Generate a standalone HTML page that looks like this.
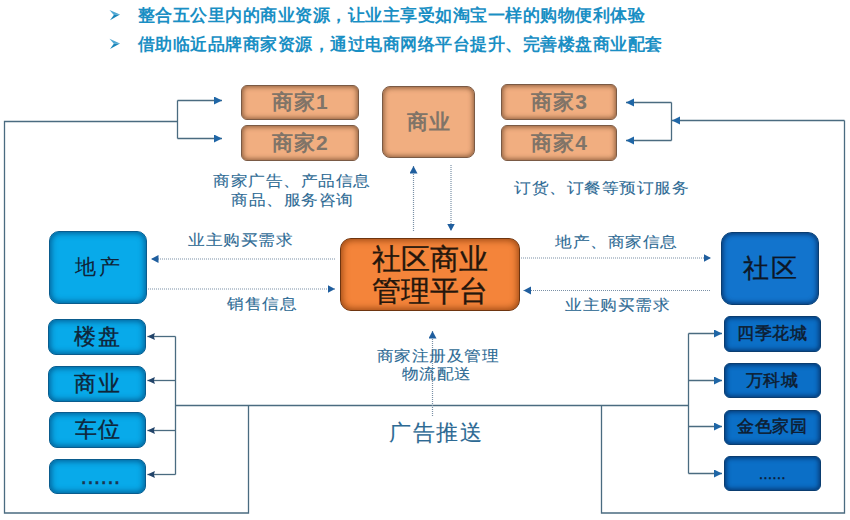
<!DOCTYPE html>
<html><head><meta charset="utf-8">
<style>
html,body{margin:0;padding:0;background:#fff;}
body{width:850px;height:520px;position:relative;overflow:hidden;font-family:"Liberation Sans",sans-serif;}
.t{position:absolute;white-space:nowrap;}
.top{color:#1A8FC4;font-weight:bold;font-size:17px;letter-spacing:0.5px;left:137.6px;line-height:20px;}
.ar{color:#1E9AD6;font-size:14px;position:absolute;left:108px;line-height:20px;}
.lbl{color:#2D6A94;font-size:17px;font-weight:normal;-webkit-text-stroke:0.12px currentColor;letter-spacing:0.5px;line-height:19px;text-align:center;transform:scaleY(0.9);}
.box{position:absolute;box-sizing:border-box;display:flex;align-items:center;justify-content:center;}
.peach{background:#F1AE80;border:1px solid #7A5A45;border-radius:6px;color:#807468;font-weight:bold;font-size:21px;letter-spacing:1px;padding-left:1px;box-shadow:inset 0 0 5px 1px rgba(110,70,40,.8);}
.orange{background:#F4843A;border:1px solid #6E3510;border-radius:11px;color:#24160c;font-size:29px;font-weight:normal;-webkit-text-stroke:0.35px currentColor;line-height:32px;text-align:center;box-shadow:inset 0 0 7px 1px rgba(120,50,5,.8);}
.lb{background:#08AAEA;border:1px solid #0A5C8E;border-radius:8px;color:#0F2438;font-size:22px;font-weight:normal;-webkit-text-stroke:0.35px currentColor;letter-spacing:1.5px;padding-left:1.5px;box-shadow:inset 0 0 6px 1px rgba(0,60,110,.75);}
.db{background:#0B6FC7;border:1px solid #0A3D70;border-radius:6px;color:#0E1C30;font-size:16.5px;font-weight:normal;-webkit-text-stroke:0.45px currentColor;letter-spacing:0.8px;padding-left:0.8px;box-shadow:inset 0 0 5px 1px rgba(5,40,90,.85);}
svg{position:absolute;left:0;top:0;}
</style></head><body>
<svg width="20" height="60" style="left:105px;top:0"><path d="M4.5,10 L15,14.6 L8.8,15 Z" fill="#4FA8D4"/><path d="M8.8,15 L15,14.6 L5,20.2 Z" fill="#1A86BA"/><path d="M4.5,38.8 L15,43.4 L8.8,43.8 Z" fill="#4FA8D4"/><path d="M8.8,43.8 L15,43.4 L5,49 Z" fill="#1A86BA"/></svg>
<div class="t top" style="top:5.5px">整合五公里内的商业资源，让业主享受如淘宝一样的购物便利体验</div>

<div class="t top" style="top:34.5px">借助临近品牌商家资源，通过电商网络平台提升、完善楼盘商业配套</div>

<svg width="850" height="520" viewBox="0 0 850 520">
<defs>
<marker id="ah" markerWidth="9" markerHeight="9" refX="7.5" refY="4" orient="auto" markerUnits="userSpaceOnUse"><path d="M0,0.5 L7.5,4 L0,7.5 L1,4 Z" fill="#22446A"/></marker>
<marker id="ah2" markerWidth="9" markerHeight="9" refX="8" refY="4" orient="auto" markerUnits="userSpaceOnUse"><path d="M0,0 L8,4 L0,8 Z" fill="#1F66A6"/></marker>
<marker id="ad" markerWidth="9" markerHeight="9" refX="7.5" refY="4" orient="auto" markerUnits="userSpaceOnUse"><path d="M0,0 L7.5,4 L0,8 Z" fill="#1F5E9E"/></marker>
</defs>
<g fill="none" stroke="#4A6B80" stroke-width="1.3">
<polyline points="177.5,121.5 4.5,121.5 4.5,513 248.5,513 248.5,405.5"/>
<line x1="177.5" y1="100.5" x2="177.5" y2="138.5"/>
<line x1="177.5" y1="100.5" x2="222" y2="100.5" marker-end="url(#ah2)"/>
<line x1="177.5" y1="138.5" x2="222" y2="138.5" marker-end="url(#ah2)"/>
<polyline points="601.5,405.5 601.5,513 844.5,513 844.5,120.5"/>
<line x1="844.5" y1="120.5" x2="672" y2="120.5" marker-end="url(#ah2)"/>
<line x1="671.5" y1="102.5" x2="671.5" y2="140.5"/>
<line x1="671.5" y1="102.5" x2="626" y2="102.5" marker-end="url(#ah2)"/>
<line x1="671.5" y1="140.5" x2="626" y2="140.5" marker-end="url(#ah2)"/>
<line x1="175.5" y1="405.5" x2="688.5" y2="405.5"/>
<line x1="175.5" y1="336.5" x2="175.5" y2="474.5"/>
<line x1="175.5" y1="336.5" x2="147.4" y2="336.5" marker-end="url(#ah)"/>
<line x1="175.5" y1="380.5" x2="147.4" y2="380.5" marker-end="url(#ah)"/>
<line x1="175.5" y1="430.5" x2="147.4" y2="430.5" marker-end="url(#ah)"/>
<line x1="175.5" y1="474.5" x2="147.4" y2="474.5" marker-end="url(#ah)"/>
<line x1="688.5" y1="333.5" x2="688.5" y2="473.5"/>
<line x1="688.5" y1="333.5" x2="722" y2="333.5" marker-end="url(#ah2)"/>
<line x1="688.5" y1="380.5" x2="722" y2="380.5" marker-end="url(#ah2)"/>
<line x1="688.5" y1="426.5" x2="722" y2="426.5" marker-end="url(#ah2)"/>
<line x1="688.5" y1="473.5" x2="722" y2="473.5" marker-end="url(#ah2)"/>
</g>
<g fill="none" stroke="#7A90A6" stroke-width="1.2" stroke-dasharray="1 1">
<line x1="335" y1="259" x2="151" y2="259" marker-end="url(#ad)"/>
<line x1="148" y1="289" x2="335" y2="289" marker-end="url(#ad)"/>
<line x1="521" y1="258" x2="711" y2="258" marker-end="url(#ad)"/>
<line x1="710" y1="290.5" x2="523.5" y2="290.5" marker-end="url(#ad)"/>
<line x1="413.5" y1="231" x2="413.5" y2="166" marker-end="url(#ad)"/>
<line x1="451" y1="165" x2="451" y2="231" marker-end="url(#ad)"/>
<line x1="432.5" y1="416" x2="432.5" y2="331" marker-end="url(#ad)"/>
</g>
</svg>

<div class="box peach" style="left:241px;top:84.5px;width:117.5px;height:35.5px">商家1</div>
<div class="box peach" style="left:241px;top:125px;width:117.5px;height:36px">商家2</div>
<div class="box peach" style="left:382px;top:86px;width:93px;height:71.5px;border-radius:8px">商业</div>
<div class="box peach" style="left:501px;top:84px;width:116px;height:36px">商家3</div>
<div class="box peach" style="left:501px;top:125px;width:116px;height:35.5px">商家4</div>

<div class="box orange" style="left:339.5px;top:238px;width:180px;height:73px">社区商业<br>管理平台</div>

<div class="box lb" style="left:49px;top:230.5px;width:98px;height:73px;border-radius:10px;font-size:21px;font-weight:normal;-webkit-text-stroke:0.1px currentColor;letter-spacing:3px;padding-left:1px">地产</div>
<div class="box lb" style="left:48px;top:318.5px;width:98px;height:36px">楼盘</div>
<div class="box lb" style="left:48px;top:366px;width:98px;height:36px">商业</div>
<div class="box lb" style="left:49px;top:412px;width:97px;height:36px">车位</div>
<div class="box lb" style="left:49px;top:459px;width:97px;height:35px;font-size:16px;letter-spacing:2.2px;padding:5px 0 0 8px;font-weight:bold;color:#1a3550">......</div>

<div class="box db" style="left:721px;top:232px;width:98px;height:72.5px;border-radius:11px;background:#1274CD;font-size:26px;font-weight:normal;-webkit-text-stroke:0.35px currentColor;letter-spacing:2px;padding-left:2px;color:#0d1626">社区</div>
<div class="box db" style="left:723.5px;top:316px;width:97px;height:35.5px">四季花城</div>
<div class="box db" style="left:723.5px;top:363.4px;width:97px;height:35px">万科城</div>
<div class="box db" style="left:723.5px;top:410px;width:97px;height:34.5px">金色家园</div>
<div class="box db" style="left:723.5px;top:456.4px;width:97px;height:35px;font-size:14px;letter-spacing:0.6px;padding:0 0 0 1px;color:#0c1c34">......</div>

<div class="t lbl" style="left:213px;top:172px">商家广告、产品信息</div>
<div class="t lbl" style="left:231px;top:190.5px">商品、服务咨询</div>
<div class="t lbl" style="left:514px;top:179px">订货、订餐等预订服务</div>
<div class="t lbl" style="left:188px;top:230.5px">业主购买需求</div>
<div class="t lbl" style="left:227px;top:294.5px">销售信息</div>
<div class="t lbl" style="left:555px;top:233px">地产、商家信息</div>
<div class="t lbl" style="left:565px;top:295.5px">业主购买需求</div>
<div class="t lbl" style="left:376.5px;top:346.5px">商家注册及管理</div>
<div class="t lbl" style="left:401.5px;top:364.5px">物流配送</div>
<div class="t lbl" style="left:389px;top:419.5px;font-size:22px;letter-spacing:1.5px;line-height:26px;transform:none">广告推送</div>
</body></html>
